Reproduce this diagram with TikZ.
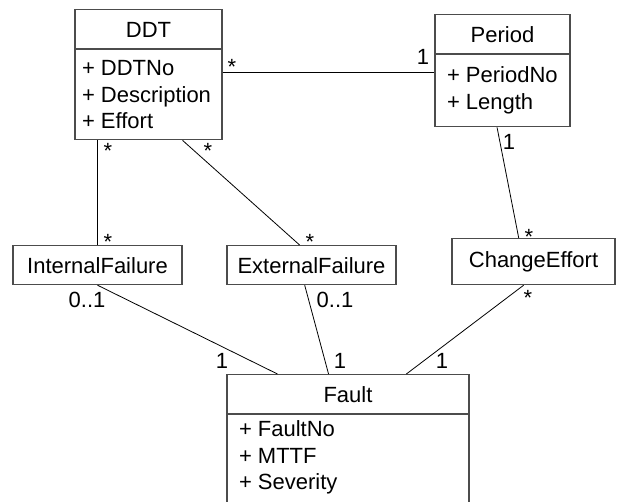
\documentclass[tikz,border=0pt]{standalone}
\usepackage{fontspec}
\setmainfont{Liberation Sans}
\usetikzlibrary{positioning,calc}

\tikzset{
  classhead/.style={draw=black!70, line width=1.2pt, inner xsep=0pt, inner ysep=0pt,
    text height=28pt, text depth=11pt},
  classbody/.style={draw=black!70, line width=1.2pt, inner ysep=0pt, align=flush left},
  assoc/.style={line width=0.8pt},
  mult/.style={anchor=base, inner sep=0pt}
}

\begin{document}
\begin{tikzpicture}[x=1pt, y=-1pt, font=\fontsize{22}{26.3}\selectfont]
\useasboundingbox (0,0) rectangle (617,502);

% Classes with attributes
\node[classhead, minimum width=147pt, anchor=north] (ddt) at (148.5,9) {DDT};
\node[classbody, below=0pt of ddt, inner xsep=7pt, text width=133pt,
  text height=26pt, text depth=64pt] (ddtb) {+ DDTNo\\+ Description\\+ Effort};

\node[classhead, minimum width=135pt, anchor=north] (period) at (502.5,14) {Period};
\node[classbody, below=0pt of period, inner xsep=12pt, text width=111pt,
  text height=28pt, text depth=44pt] (periodb) {+ PeriodNo\\+ Length};

\node[classhead, minimum width=242pt, anchor=north] (fault) at (348,374) {Fault};
\node[classbody, below=0pt of fault, inner xsep=12pt, text width=218pt,
  text height=22pt, text depth=120pt] (faultb) {+ FaultNo\\+ MTTF\\+ Severity};

% Link classes
\node[classhead, minimum width=169pt, anchor=north] (intf) at (97.5,245) {InternalFailure};
\node[classhead, minimum width=169pt, anchor=north] (extf) at (311.5,245) {ExternalFailure};
\node[classhead, minimum width=163pt, anchor=north, text height=29pt, text depth=17pt]
  (chg) at (533.5,238) {ChangeEffort};

% Associations
\draw[assoc] ($(ddtb.north east)!0.25!(ddtb.south east)$) coordinate (dp) -- (dp -| periodb.west);
\draw[assoc] (intf.north) -- (intf.north |- ddtb.south);
\draw[assoc] ($(ddtb.south west)!0.73!(ddtb.south east)$) -- ($(extf.north west)!0.43!(extf.north east)$);
\draw[assoc] ($(periodb.south west)!0.46!(periodb.south east)$) -- ($(chg.north west)!0.41!(chg.north east)$);
\draw[assoc] (intf.south) -- ($(fault.north west)!0.21!(fault.north east)$);
\draw[assoc] ($(extf.south west)!0.46!(extf.south east)$) -- ($(fault.north west)!0.42!(fault.north east)$);
\draw[assoc] ($(chg.south west)!0.44!(chg.south east)$) -- ($(fault.north west)!0.74!(fault.north east)$);

% Multiplicities
\node[mult] (m-ddt-per) at (232,75) {*};
\node[mult] (m-per-ddt) at (423,65) {1};
\node[mult] (m-ddt-int) at (108,159) {*};
\node[mult] (m-int-ddt) at (108,250) {*};
\node[mult] (m-ddt-ext) at (208,159) {*};
\node[mult] (m-ext-ddt) at (310,250) {*};
\node[mult] (m-per-chg) at (509,150) {1};
\node[mult] (m-chg-per) at (529,244) {*};
\node[mult] (m-int-flt) at (87,307) {0..1};
\node[mult] (m-flt-int) at (222,368) {1};
\node[mult] (m-ext-flt) at (335,307) {0..1};
\node[mult] (m-flt-ext) at (340,368) {1};
\node[mult] (m-chg-flt) at (528,305) {*};
\node[mult] (m-flt-chg) at (442,368) {1};

\end{tikzpicture}
\end{document}
